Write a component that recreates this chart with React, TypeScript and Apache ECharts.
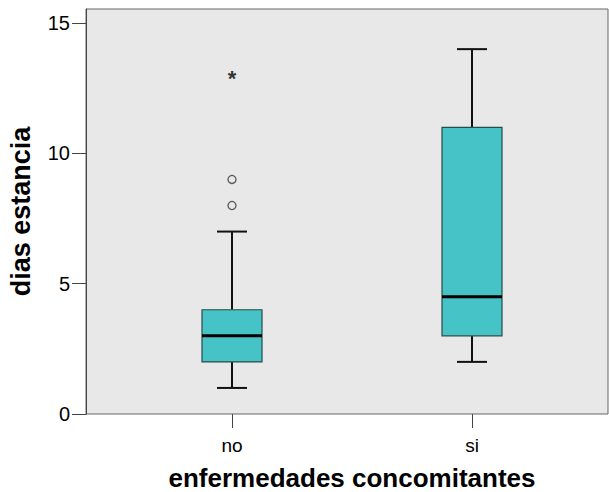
import React, { useEffect, useRef } from "react";
import * as echarts from "echarts";

const categories = ["no", "si"];
// [min whisker, Q1, median, Q3, max whisker]
const boxValues = [
  [1, 2, 3, 4, 7],
  [2, 3, 4.5, 11, 14],
];
const outlierCircles = [
  [0, 8],
  [0, 9],
];
const outlierExtremes = [[0, 13]];
const yTicks = [0, 5, 10, 15];

const FONT = "Liberation Sans, Arial, sans-serif";
const Y_MAX = 15.54;

export default function App() {
  const ref = useRef<HTMLDivElement>(null);
  useEffect(() => {
    if (!ref.current) return;
    const chart = echarts.init(ref.current, null, { renderer: "svg" });
    chart.setOption({
      animation: false,
      grid: [
        {
          left: 86,
          right: 1,
          top: 9,
          bottom: 78,
          show: true,
          backgroundColor: "#e8e8e8",
          borderColor: "#666",
          borderWidth: 1,
          outerBoundsMode: "none",
        },
        { left: 112, width: 480, top: 9, bottom: 78, outerBoundsMode: "none" },
      ],
      xAxis: [
        { gridIndex: 0, type: "value", show: false, min: 0, max: 1 },
        {
          gridIndex: 1,
          type: "category",
          data: categories,
          boundaryGap: true,
          axisLine: { show: false },
          axisTick: {
            show: true,
            alignWithLabel: true,
            length: 14,
            lineStyle: { color: "#444", width: 1 },
          },
          axisLabel: { color: "#000", fontSize: 19, fontFamily: FONT, margin: 22 },
          name: "enfermedades concomitantes",
          nameLocation: "middle",
          nameGap: 51,
          nameTextStyle: {
            color: "#000",
            fontSize: 26,
            lineHeight: 26,
            fontWeight: "bold",
            fontFamily: FONT,
          },
        },
      ],
      yAxis: [
        {
          gridIndex: 0,
          type: "value",
          min: 0,
          max: Y_MAX,
          axisLine: { show: true, lineStyle: { color: "#444" } },
          axisTick: { show: true, length: 14, customValues: yTicks, lineStyle: { color: "#444" } },
          axisLabel: { color: "#000", fontSize: 20, fontFamily: FONT, margin: 16, customValues: yTicks },
          splitLine: { show: false },
          name: "dias estancia",
          nameLocation: "middle",
          nameGap: 52,
          nameRotate: 90,
          nameTextStyle: { color: "#000", fontSize: 27, fontWeight: "bold", fontFamily: FONT },
        },
        { gridIndex: 1, type: "value", min: 0, max: Y_MAX, show: false },
      ],
      series: [
        {
          type: "custom",
          xAxisIndex: 1,
          yAxisIndex: 1,
          data: boxValues.map((b, i) => [i, ...b]),
          encode: { x: 0, y: [1, 2, 3, 4, 5] },
          renderItem: (params: any, api: any) => {
            const x = api.value(0);
            const pMin = api.coord([x, api.value(1)]);
            const pQ1 = api.coord([x, api.value(2)]);
            const pMed = api.coord([x, api.value(3)]);
            const pQ3 = api.coord([x, api.value(4)]);
            const pMax = api.coord([x, api.value(5)]);
            const cx = pMin[0];
            const half = 30;
            const cap = 15;
            const whisker = { stroke: "#111", lineWidth: 2 };
            return {
              type: "group",
              children: [
                { type: "line", shape: { x1: cx, y1: pMax[1], x2: cx, y2: pQ3[1] }, style: whisker },
                { type: "line", shape: { x1: cx, y1: pQ1[1], x2: cx, y2: pMin[1] }, style: whisker },
                { type: "line", shape: { x1: cx - cap, y1: pMax[1], x2: cx + cap, y2: pMax[1] }, style: whisker },
                { type: "line", shape: { x1: cx - cap, y1: pMin[1], x2: cx + cap, y2: pMin[1] }, style: whisker },
                {
                  type: "rect",
                  shape: { x: cx - half, y: pQ3[1], width: 2 * half, height: pQ1[1] - pQ3[1] },
                  style: { fill: "#45c3c6", stroke: "#2a4a4a", lineWidth: 1.2 },
                },
                {
                  type: "line",
                  shape: { x1: cx - half, y1: pMed[1], x2: cx + half, y2: pMed[1] },
                  style: { stroke: "#000", lineWidth: 3 },
                },
              ],
            };
          },
        },
        {
          type: "scatter",
          xAxisIndex: 1,
          yAxisIndex: 1,
          data: outlierCircles,
          symbol: "circle",
          symbolSize: 8,
          itemStyle: { color: "#e8e8e8", borderColor: "#333", borderWidth: 1.3 },
        },
        {
          type: "scatter",
          xAxisIndex: 1,
          yAxisIndex: 1,
          data: outlierExtremes,
          symbolSize: 1,
          itemStyle: { color: "transparent" },
          label: {
            show: true,
            position: "inside",
            formatter: "*",
            fontSize: 22,
            fontWeight: "bold",
            fontFamily: FONT,
            color: "#000",
            offset: [0, 3],
          },
        },
      ],
    });
    return () => chart.dispose();
  }, []);
  return (
    <div
      ref={ref}
      style={{ position: "absolute", left: 0, top: 0, width: 609, height: 492, background: "#fff" }}
    />
  );
}
